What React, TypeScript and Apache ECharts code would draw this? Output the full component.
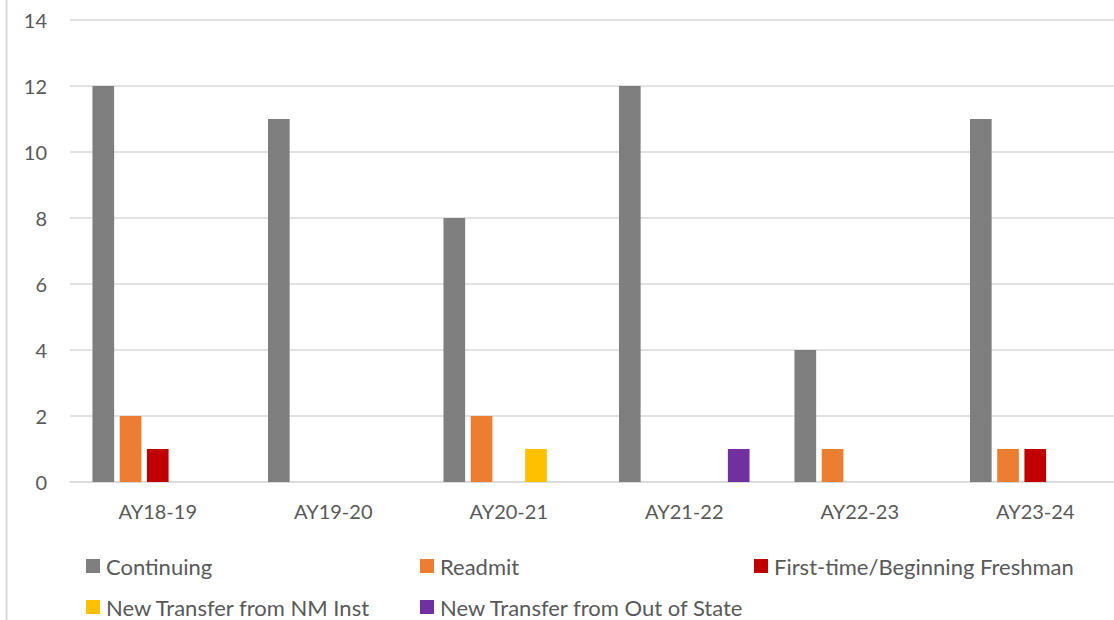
import React, { useEffect, useRef } from "react";
import * as echarts from "echarts";

const categories = ["AY18-19", "AY19-20", "AY20-21", "AY21-22", "AY22-23", "AY23-24"];

const continuing = [12, 11, 8, 12, 4, 11];
const readmit = [2, 0, 2, 0, 1, 1];
const firstTime = [1, 0, 0, 0, 0, 1];
const transferNM = [0, 0, 1, 0, 0, 0];
const transferOutOfState = [0, 0, 0, 1, 0, 0];

const seriesDefs = [
  { name: "Continuing", data: continuing, color: "#7f7f7f" },
  { name: "Readmit", data: readmit, color: "#ed7d31" },
  { name: "First-time/Beginning Freshman", data: firstTime, color: "#c00000" },
  { name: "New Transfer from NM Inst", data: transferNM, color: "#ffc000" },
  { name: "New Transfer from Out of State", data: transferOutOfState, color: "#7030a0" },
];

// legend layout: [series name, left, top]
const legendSlots: [string, number, number][] = [
  ["Continuing", 86, 555],
  ["Readmit", 420, 555],
  ["First-time/Beginning Freshman", 754, 555],
  ["New Transfer from NM Inst", 86, 596],
  ["New Transfer from Out of State", 420, 596],
];

const FONT = "Lato, 'Open Sans', sans-serif";
const TEXT = "#595959";

export default function App() {
  const ref = useRef<HTMLDivElement>(null);

  useEffect(() => {
    if (!ref.current) return;
    const chart = echarts.init(ref.current, undefined, { renderer: "svg" });
    chart.setOption({
      animation: false,
      backgroundColor: "#ffffff",
      textStyle: { fontFamily: FONT },
      // the plot runs a little past the visible frame on the right
      grid: { left: 70, right: 0, top: 20, bottom: 138, containLabel: false },
      legend: legendSlots.map(([name, left, top]) => ({
        data: [name],
        left,
        top,
        padding: 0,
        icon: "rect",
        itemWidth: 14,
        itemHeight: 14,
        selectedMode: false,
        textStyle: { color: TEXT, fontSize: 22, fontFamily: FONT, padding: [0, 0, 0, 1] },
      })),
      xAxis: {
        type: "category",
        data: categories,
        axisTick: { show: false },
        axisLine: { show: true, lineStyle: { color: "#d9d9d9", width: 1.5 } },
        axisLabel: { color: TEXT, fontSize: 20, margin: 19, fontFamily: FONT },
      },
      yAxis: {
        type: "value",
        min: 0,
        max: 14,
        interval: 2,
        axisLine: { show: false },
        axisTick: { show: false },
        axisLabel: { color: TEXT, fontSize: 20, margin: 23, fontFamily: FONT },
        splitLine: { lineStyle: { color: "#d9d9d9", width: 1.5 } },
      },
      series: seriesDefs.map((s) => ({
        type: "bar",
        name: s.name,
        data: s.data,
        itemStyle: { color: s.color },
        barGap: "25.6%",
        barCategoryGap: "25.6%",
      })),
      graphic: [
        {
          type: "line",
          shape: { x1: 6.5, y1: 0, x2: 6.5, y2: 620 },
          style: { stroke: "#d9d9d9", lineWidth: 2 },
        },
      ],
    });
    return () => chart.dispose();
  }, []);

  return (
    <div
      style={{
        position: "fixed",
        left: 0,
        top: 0,
        width: 1114,
        height: 620,
        overflow: "hidden",
        background: "#ffffff",
      }}
    >
      <div ref={ref} style={{ width: 1123, height: 620 }} />
    </div>
  );
}
